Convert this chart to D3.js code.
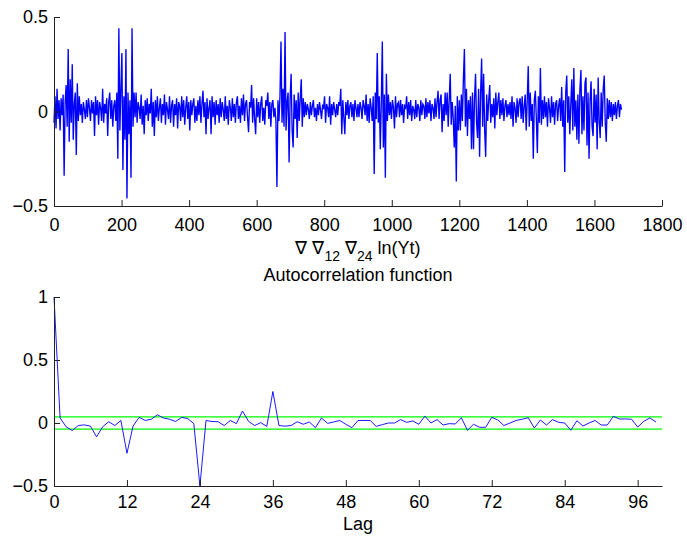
<!DOCTYPE html>
<html lang="en">
<head>
  <meta charset="UTF-8">
  <title>Differenced series and ACF</title>
  <script src="https://d3js.org/d3.v7.min.js"></script>
  <style>
    body { margin: 0; background: #fff; }
    svg { display: block; }
    text { font-family: 'Liberation Sans', Arial, Helvetica, sans-serif; fill: #000; }
    .tick text { font-size: 18px; }
    .axis path, .axis line { stroke: #222; }
  </style>
</head>
<body>
<div id="chart"></div>
<script>
  // differenced log series, one value every SERIES_STEP samples
  var SERIES_STEP = 3;
  var seriesValues = [
    -.06,.08,-.09,.12,-.04,.06,-.1,.07,-.02,.09,-.34,.05,.14,-.08,.33,-.16,.17,-.06,.25,-.15,
    .04,.1,-.23,.15,-.05,.08,-.02,.04,-.06,.05,.01,-.04,.06,-.03,.07,.02,-.05,.06,-.01,.05,
    -.13,.08,-.02,.06,-.07,.05,.02,-.05,.12,-.06,.04,-.01,.07,-.13,.05,.1,-.04,.06,-.08,.03,
    .06,-.05,.1,-.25,.44,-.1,.12,.31,-.31,.08,-.15,.33,-.46,.1,-.12,.06,-.35,.44,-.08,.1,
    -.03,.1,-.06,.05,.02,-.04,.09,-.07,.03,-.12,.06,-.02,.07,-.05,.04,-.01,.12,-.08,.05,-.13,
    .06,-.03,.08,-.05,.02,.07,-.06,.04,-.02,.09,-.07,.05,.01,-.04,.08,-.06,.03,.06,-.08,.04,
    -.02,.07,-.09,.05,.03,-.05,.08,-.03,.06,-.07,.02,.08,-.04,.05,-.1,.06,-.02,.04,.07,-.06,
    .03,-.05,.06,-.02,.08,-.06,.04,.11,-.03,.05,-.12,.07,-.04,.02,.06,-.12,.08,-.03,.05,-.07,
    .06,-.02,.04,-.06,.07,-.03,.05,.01,-.05,.08,-.04,.03,-.07,.06,.02,-.05,.07,-.03,.04,-.06,
    .05,.08,-.04,.03,-.06,.07,-.02,.09,-.05,.04,.06,-.03,-.11,.05,.02,.14,-.06,.07,-.04,-.12,
    .07,-.03,.05,-.06,.04,.08,-.05,.02,-.07,.06,.03,.1,-.04,.05,-.08,.04,.06,-.03,.02,-.05,
    -.4,.06,-.05,.08,.37,-.06,.12,-.08,.42,-.1,.05,.1,-.27,.07,.2,-.1,-.19,.09,-.04,.06,
    -.14,.1,-.05,.07,.17,-.08,.07,-.03,.05,-.02,.04,.01,-.04,.05,-.02,.03,.06,-.03,.02,-.05,
    .04,-.02,.05,.01,-.04,.03,.02,.08,-.06,.04,.02,-.03,.08,-.07,.04,-.02,.05,.01,-.03,.04,
    -.02,.05,.03,.12,-.12,.06,-.03,-.12,.05,-.02,.06,-.04,.03,.05,-.03,.04,-.05,.06,.02,-.03,
    .04,-.03,.05,.02,-.04,.06,.03,-.02,.09,-.05,.04,-.06,.07,.02,-.05,.08,-.33,.1,-.04,.31,
    -.06,.08,-.2,.05,.37,-.19,.09,-.35,.2,-.05,.09,-.02,.05,-.04,.06,.02,-.09,.08,-.03,.04,
    .05,-.03,.06,-.02,.04,-.06,.03,.02,.08,-.04,.05,-.02,.06,-.05,.03,.01,-.04,.06,-.03,.04,
    .02,-.05,.06,-.02,.04,.03,-.04,.07,-.03,.05,-.01,.06,-.05,.04,.02,-.04,.07,-.03,.05,.11,
    -.04,.06,.09,-.11,.04,-.05,.1,-.02,.1,-.08,.06,.2,-.07,.05,-.04,-.19,.03,-.37,.08,-.1,
    .06,-.1,.09,-.05,.17,.33,-.08,.12,-.13,.06,-.04,.08,-.2,.1,-.2,.07,.2,-.06,-.14,.12,
    -.24,.1,.28,-.08,.2,-.1,-.24,.09,-.05,.06,.14,-.06,.04,-.03,.07,-.09,.1,-.02,.05,.1,
    -.04,.06,-.02,.07,-.05,.03,.06,-.03,.04,-.02,.05,-.04,.08,-.08,.05,.02,-.06,.07,-.03,.05,
    .07,-.04,.08,-.06,.03,.09,-.1,.06,.24,-.08,.1,-.05,.04,-.25,.06,.11,-.04,-.22,.08,-.06,
    .23,-.07,.06,-.04,.08,-.03,.05,-.08,.07,.02,-.06,.08,-.03,.05,-.07,.04,.06,-.05,.03,.07,
    -.05,.13,-.08,.06,-.32,.1,.19,-.06,.08,-.12,.04,.17,-.1,.23,-.08,.06,-.15,.09,-.17,.12,
    .22,-.12,.08,-.1,.15,.18,-.18,.1,-.25,.06,.16,-.08,-.13,.12,-.06,.09,-.2,.18,-.05,-.14,
    .1,-.08,.12,.19,-.06,-.16,.07,-.04,.06,-.03,.05,-.05,.04,-.02,.05,-.04,.03,.06,-.03,.04,
    .01
  ];
  var seriesXTicks = [0, 200, 400, 600, 800, 1000, 1200, 1400, 1600, 1800];
  var seriesYTicks = [-0.5, 0, 0.5];

  // autocorrelation, lags 0..99
  var acfValues = [
    1, .04, -.03, -.06, -.02, -.015, -.025, -.11, -.03, .01,
    -.02, .02, -.24, -.025, .045, .02, .03, .065, .04, .03,
    .012, .045, .035, -.005, -.5, .02, .012, .01, -.02, .02,
    -.005, .095, .013, -.02, .003, -.027, .25, -.02, -.025, -.02,
    .01, -.01, .008, -.037, .04, -.003, .008, .02, -.01, -.037,
    .02, .02, .02, -.027, -.013, 0, 0, .027, .005, .016,
    -.01, .055, 0, .027, -.016, -.005, -.008, .042, -.058, -.01,
    -.034, -.034, .045, .024, -.02, 0, .02, .03, .042, -.04,
    .024, -.016, .027, .005, 0, -.058, .018, -.024, 0, .02,
    -.016, -.016, .053, .032, .032, .03, -.032, .013, .04, .008
  ];
  var confBound = 0.0488;
  var lagTicks = [0, 12, 24, 36, 48, 60, 72, 84, 96];
  var acfYTicks = [-0.5, 0, 0.5, 1];

  var W = 687, H = 541;
  var LEFT = 54, RIGHT = 662;
  var fmt = d3.format('');

  var svg = d3.select('#chart').append('svg')
    .attr('width', W)
    .attr('height', H);

  // ---------- top panel: the series ----------
  var x1 = d3.scaleLinear().domain([0, 1800]).range([LEFT, RIGHT]);
  var y1 = d3.scaleLinear().domain([-0.5, 0.5]).range([206, 17]);

  svg.append('path')
    .datum(seriesValues)
    .attr('fill', 'none')
    .attr('stroke', '#0000ff')
    .attr('stroke-width', 1.35)
    .attr('stroke-linejoin', 'miter')
    .attr('d', d3.line()
      .x(function (d, i) { return x1(i * SERIES_STEP); })
      .y(function (d) { return y1(d); }));

  var gx1 = svg.append('g')
    .attr('class', 'axis')
    .attr('transform', 'translate(0,' + y1(-0.5) + ')')
    .call(d3.axisBottom(x1).tickValues(seriesXTicks).tickFormat(fmt).tickSizeInner(-6).tickSizeOuter(0).tickPadding(12));
  gx1.selectAll('.tick text').attr('y', 25).attr('dy', 0);

  svg.append('g')
    .attr('class', 'axis')
    .attr('transform', 'translate(' + LEFT + ',0)')
    .call(d3.axisLeft(y1).tickValues(seriesYTicks).tickFormat(fmt).tickSizeInner(-6).tickSizeOuter(0).tickPadding(6));

  var xl = svg.append('text')
    .attr('x', (LEFT + RIGHT) / 2)
    .attr('y', 254)
    .attr('text-anchor', 'middle')
    .style('font-size', '18px');
  xl.append('tspan').text('\u2207 \u2207');
  xl.append('tspan').attr('dy', 7).style('font-size', '14px').text('12');
  xl.append('tspan').attr('dy', -7).text(' \u2207');
  xl.append('tspan').attr('dy', 7).style('font-size', '14px').text('24');
  xl.append('tspan').attr('dy', -7).text(' ln(Yt)');

  // ---------- bottom panel: ACF ----------
  var x2 = d3.scaleLinear().domain([0, 100]).range([LEFT, RIGHT]);
  var y2 = d3.scaleLinear().domain([-0.5, 1]).range([486, 297]);

  svg.append('text')
    .attr('x', (LEFT + RIGHT) / 2)
    .attr('y', 281)
    .attr('text-anchor', 'middle')
    .style('font-size', '18px')
    .text('Autocorrelation function');

  [confBound, -confBound].forEach(function (b) {
    svg.append('line')
      .attr('x1', x2(0)).attr('x2', x2(100))
      .attr('y1', y2(b)).attr('y2', y2(b))
      .attr('stroke', '#00ff00')
      .attr('stroke-width', 1.2);
  });

  svg.append('path')
    .datum(acfValues)
    .attr('fill', 'none')
    .attr('stroke', '#0000ff')
    .attr('stroke-width', 0.9)
    .attr('d', d3.line()
      .x(function (d, i) { return x2(i); })
      .y(function (d) { return y2(d); }));

  var gx2 = svg.append('g')
    .attr('class', 'axis')
    .attr('transform', 'translate(0,' + y2(-0.5) + ')')
    .call(d3.axisBottom(x2).tickValues(lagTicks).tickFormat(fmt).tickSizeInner(-6).tickSizeOuter(0));
  gx2.selectAll('.tick text').attr('y', 22).attr('dy', 0);

  svg.append('g')
    .attr('class', 'axis')
    .attr('transform', 'translate(' + LEFT + ',0)')
    .call(d3.axisLeft(y2).tickValues(acfYTicks).tickFormat(fmt).tickSizeInner(-6).tickSizeOuter(0).tickPadding(6));

  svg.append('text')
    .attr('x', (LEFT + RIGHT) / 2)
    .attr('y', 530)
    .attr('text-anchor', 'middle')
    .style('font-size', '18px')
    .text('Lag');
</script>
</body>
</html>
